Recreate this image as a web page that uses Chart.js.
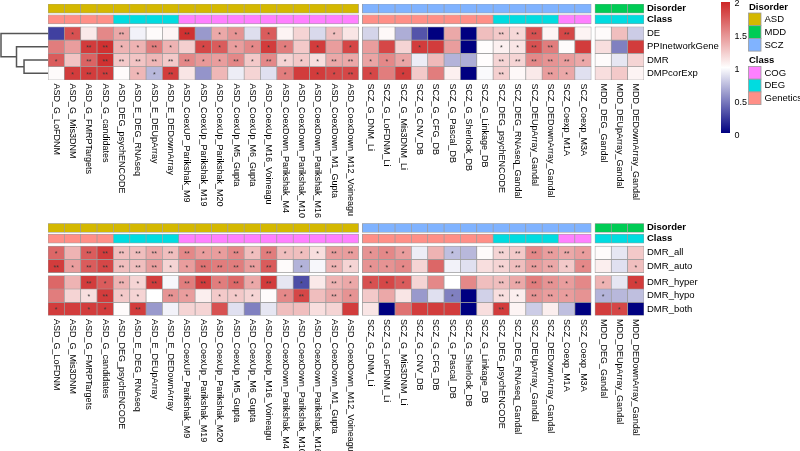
<!DOCTYPE html>
<html>
<head>
<meta charset="utf-8">
<script src="https://cdn.jsdelivr.net/npm/chart.js@4.4.0/dist/chart.umd.min.js"></script>
<style>
  html, body { margin: 0; padding: 0; background: #fff; }
  #wrap { position: relative; width: 800px; height: 451px; }
  #wrap canvas { position: absolute; left: 0; top: 0; }
</style>
</head>
<body>
<div id="wrap">
  <canvas id="topChart" width="800" height="451"></canvas>
  <canvas id="bottomChart" width="800" height="451"></canvas>
</div>

<script>
    // ---- data ----
    const columns = [
        'ASD_G_LoFDNM', 'ASD_G_Mis3DNM', 'ASD_G_FMRPTargets', 'ASD_G_candidates', 'ASD_DEG_psychENCODE',
        'ASD_E_DEG_RNAseq', 'ASD_E_DEUpArray', 'ASD_E_DEDownArray', 'ASD_CoexUP_Parikshak_M9',
        'ASD_CoexUp_Parikshak_M19', 'ASD_CoexUp_Parikshak_M20', 'ASD_CoexUp_M5_Gupta', 'ASD_CoexUp_M6_Gupta',
        'ASD_CoexUp_M16_Voineagu', 'ASD_CoexDown_Parikshak_M4', 'ASD_CoexDown_Parikshak_M10',
        'ASD_CoexDown_Parikshak_M16', 'ASD_CoexDown_M1_Gupta', 'ASD_CoexDown_M12_Voineagu',
        'SCZ_G_DNM_Li', 'SCZ_G_LoFDNM_Li', 'SCZ_G_Mis3DNM_Li', 'SCZ_G_CNV_DB', 'SCZ_G_CFG_DB', 'SCZ_G_Pascal_DB',
        'SCZ_G_Sherlock_DB', 'SCZ_G_Linkage_DB', 'SCZ_DEG_psychENCODE', 'SCZ_DEG_RNAseq_Gandal',
        'SCZ_DEUpArray_Gandal', 'SCZ_DEDownArray_Gandal', 'SCZ_Coexp_M1A', 'SCZ_Coexp_M3A',
        'MDD_DEG_Gandal', 'MDD_DEUpArray_Gandal', 'MDD_DEDownArray_Gandal'
    ];
    const classes = [
        'Genetics', 'Genetics', 'Genetics', 'Genetics', 'DEG', 'DEG', 'DEG', 'DEG',
        'COG', 'COG', 'COG', 'COG', 'COG', 'COG', 'COG', 'COG', 'COG', 'COG', 'COG',
        'Genetics', 'Genetics', 'Genetics', 'Genetics', 'Genetics', 'Genetics', 'Genetics', 'Genetics',
        'DEG', 'DEG', 'DEG', 'DEG', 'COG', 'COG',
        'DEG', 'DEG', 'DEG'
    ];
    const disorderBlocks = ['ASD', 'SCZ', 'MDD'];
    const disorderLegend = ['ASD', 'MDD', 'SCZ'];
    const classLegend = ['COG', 'DEG', 'Genetics'];
    const scaleTicks = [0, 0.5, 1, 1.5, 2];

    // top heatmap (rows clustered)
    const topRows = ['DE', 'PPInetworkGene', 'DMR', 'DMPcorExp'];
    const deVals = [0.25, 1.8, 1.1, 1.55, 1.4, 0.95, 1.02, 1.05, 1.95, 0.6, 1.4, 1.5, 0.87, 1.75, 1.05, 1.2, 0.85, 1.3, 1.12,
                    0.83, 1.03, 0.68, 0.33, 0.0, 1.4, 0.0, 1.3, 1.25, 1.18, 1.8, 1.05, 1.85, 1.05,
                    1.02, 1.3, 0.8];
    const ppiVals = [1.6, 1.45, 1.9, 1.95, 1.35, 1.35, 1.6, 1.35, 1.22, 1.85, 1.75, 1.45, 1.55, 1.9, 1.6, 1.25, 1.9, 1.45, 1.85,
                     1.45, 1.85, 1.2, 1.9, 1.9, 1.45, 0.0, 1.01, 1.07, 1.12, 1.8, 1.6, 1.02, 1.9,
                     1.15, 0.5, 1.9];
    const dmrVals = [1.75, 1.27, 1.72, 1.95, 1.25, 1.27, 1.33, 1.25, 1.55, 1.47, 1.45, 1.55, 1.25, 1.55, 1.2, 1.25, 1.15, 1.4, 1.4,
                     1.42, 1.55, 1.42, 0.93, 1.32, 0.7, 0.68, 1.01, 1.2, 1.2, 1.55, 1.5, 1.45, 1.4,
                     1.02, 0.9, 1.2];
    const dmpVals = [1.02, 1.9, 1.9, 1.9, 1.02, 1.33, 0.72, 1.9, 1.12, 0.58, 1.33, 0.93, 1.2, 0.88, 1.6, 1.9, 1.9, 1.85, 1.85,
                     1.85, 1.6, 1.9, 1.25, 1.6, 1.07, 0.0, 0.98, 1.22, 1.03, 1.1, 1.45, 1.4, 0.88,
                     1.15, 1.25, 1.05];
    const deStars = ['', '*', '', '', '**', '', '', '', '**', '', '*', '*', '', '*', '', '', '', '*', '',
                     '', '', '', '', '', '', '', '', '**', '*', '**', '', '**', '',
                     '', '', ''];
    const ppiStars = ['', '', '**', '**', '*', '*', '**', '*', '', '*', '*', '*', '*', '*', '*', '', '*', '', '*',
                      '', '', '', '*', '', '', '', '', '*', '*', '**', '**', '', '',
                      '', '', ''];
    const dmrStars = ['*', '', '**', '**', '**', '**', '**', '**', '**', '*', '*', '**', '*', '**', '*', '*', '*', '**', '**',
                      '*', '*', '*', '', '', '', '', '', '**', '**', '**', '**', '**', '*',
                      '', '', ''];
    const dmpStars = ['', '*', '**', '**', '', '*', '*', '**', '', '', '', '', '', '', '*', '', '*', '*', '**',
                      '*', '', '*', '', '', '', '', '', '**', '', '', '**', '*', '',
                      '', '', ''];
    // hclust-style merges of the top rows (negative = leaf) and their heights
    const dendroMerge = [[-3, -4], [-2, 1], [-1, 2]];
    const dendroHeight = [0.51, 0.67, 1.0];

    // bottom heatmap (rows split in two groups)
    const bottomRows = ['DMR_all', 'DMR_auto', 'DMR_hyper', 'DMR_hypo', 'DMR_both'];
    const bottomSplit = [0, 0, 1, 1, 1];
    const allVals = [1.7, 1.35, 1.75, 1.9, 1.3, 1.3, 1.4, 1.3, 1.55, 1.45, 1.45, 1.55, 1.3, 1.6, 1.3, 1.3, 1.15, 1.45, 1.45,
                     1.5, 1.55, 1.45, 0.93, 1.35, 0.75, 0.72, 1.02, 1.2, 1.25, 1.55, 1.45, 1.4, 1.45,
                     1.02, 0.9, 1.25];
    const autoVals = [1.9, 1.45, 1.75, 1.85, 1.3, 1.3, 1.45, 1.2, 1.45, 1.65, 1.6, 1.6, 1.45, 1.75, 1.02, 0.7, 0.97, 1.35, 1.2,
                      1.5, 1.5, 1.55, 1.2, 1.7, 0.95, 0.88, 1.15, 1.2, 1.3, 1.45, 1.4, 1.25, 1.55,
                      1.08, 0.88, 1.3];
    const hyperVals = [1.7, 1.35, 1.9, 1.75, 1.35, 1.2, 1.9, 0.97, 1.6, 1.9, 1.6, 1.7, 1.4, 1.9, 0.9, 0.3, 1.1, 1.35, 1.4,
                       1.8, 1.85, 1.75, 1.2, 1.55, 1.0, 1.55, 1.3, 1.3, 1.4, 1.6, 1.5, 1.45, 1.55,
                       1.35, 0.9, 1.9];
    const hypoVals = [1.6, 1.2, 1.15, 1.9, 1.25, 1.2, 1.0, 1.5, 1.45, 1.08, 1.25, 1.25, 1.2, 1.02, 1.55, 1.85, 1.3, 1.4, 1.5,
                      1.25, 1.4, 1.12, 0.6, 0.88, 0.5, 0.0, 0.82, 1.15, 1.08, 1.5, 1.45, 1.45, 1.5,
                      0.7, 0.72, 0.75];
    const bothVals = [1.9, 1.9, 1.9, 1.9, 1.02, 1.9, 0.6, 0.95, 1.2, 1.2, 1.8, 0.88, 0.5, 0.9, 1.3, 1.3, 1.15, 1.2, 1.9,
                      1.12, 0.0, 1.65, 1.9, 1.9, 1.9, 0.0, 1.15, 1.9, 1.05, 0.8, 1.08, 0.75, 0.0,
                      1.9, 1.85, 0.0];
    const allStars = ['*', '', '**', '**', '**', '**', '**', '**', '**', '*', '*', '**', '*', '**', '*', '*', '*', '**', '**',
                      '*', '*', '*', '', '', '*', '', '', '**', '**', '**', '**', '**', '*',
                      '', '', ''];
    const autoStars = ['**', '*', '**', '**', '**', '**', '**', '*', '*', '**', '**', '**', '**', '**', '', '*', '', '**', '*',
                       '*', '*', '*', '', '', '', '', '', '**', '**', '**', '**', '*', '*',
                       '', '', '*'];
    const hyperStars = ['', '', '**', '*', '**', '*', '**', '', '**', '**', '*', '**', '*', '**', '', '*', '', '**', '*',
                        '*', '*', '*', '', '', '', '', '', '**', '**', '**', '**', '*', '',
                        '*', '', '*'];
    const hypoStars = ['', '', '*', '**', '*', '*', '', '**', '*', '', '*', '*', '*', '', '*', '**', '', '**', '*',
                       '', '', '', '', '', '*', '', '', '**', '*', '**', '**', '*', '',
                       '*', '', ''];
    const bothStars = ['*', '', '*', '*', '', '**', '', '', '', '', '', '', '', '', '', '', '', '', '',
                       '', '', '', '', '', '', '', '', '**', '', '', '', '', '',
                       '', '*', ''];

    // ---- styling / layout ----
    const disorderColors = { ASD: '#d4b800', MDD: '#00cc55', SCZ: '#80b3ff' };
    const classColors = { COG: '#ff80ff', DEG: '#00dce0', Genetics: '#ff8f87' };
    const FONT = 'Liberation Sans, Arial, sans-serif';
    const COL_GAP = 0.23;          // gap between disorder blocks (in cell widths)
    const ANNOT_H = 0.68;          // annotation bar height (in cell heights)
    const ANNOT_GAP = 0.13;
    const HEAT_TOP = 2 * ANNOT_H + ANNOT_GAP + 0.22;
    const ROW_GAP = 0.23;

    const NAVY = [0, 0, 128], WHITE = [255, 255, 255], RED = [205, 38, 38];
    function heatColor(v) {
        const t = Math.max(0, Math.min(2, v));
        const [a, b, f] = t < 1 ? [NAVY, WHITE, t] : [WHITE, RED, t - 1];
        return 'rgb(' + a.map((c, i) => Math.round(c + (b[i] - c) * f)).join(',') + ')';
    }

    const xCenter = i => i + 0.5 + disorderBlocks.indexOf(columns[i].split('_')[0]) * COL_GAP;
    const X_MAX = columns.length + (disorderBlocks.length - 1) * COL_GAP;

    function cellDataset(label, y0, y1, colors) {
        return {
            label: label,
            data: columns.map((c, i) => ({ x: xCenter(i), y: [y0, y1] })),
            backgroundColor: colors,
            borderColor: '#9c9c9c',
            borderWidth: 0.7,
            borderSkipped: false,
            grouped: false,
            barPercentage: 1,
            categoryPercentage: 1
        };
    }

    function buildHeatmap(canvasId, rowNames, rowVals, rowStars, rowTops, area, extraDraw) {
        const yMax = rowTops[rowTops.length - 1] + 1;
        const datasets = [
            cellDataset('Disorder', 0, ANNOT_H, columns.map(c => disorderColors[c.split('_')[0]])),
            cellDataset('Class', ANNOT_H + ANNOT_GAP, 2 * ANNOT_H + ANNOT_GAP, classes.map(c => classColors[c]))
        ];
        rowNames.forEach((r, k) => {
            datasets.push(cellDataset(r, rowTops[k], rowTops[k] + 1, rowVals[k].map(heatColor)));
        });

        const labelsPlugin = {
            id: 'heatLabels',
            afterDatasetsDraw(chart) {
                const { ctx, chartArea, scales } = chart;
                const xs = scales.x, ys = scales.y;
                ctx.save();
                // significance stars
                ctx.fillStyle = '#3a3a3a';
                ctx.font = '7px ' + FONT;
                ctx.textAlign = 'center';
                ctx.textBaseline = 'middle';
                rowStars.forEach((stars, k) => {
                    stars.forEach((s, i) => {
                        if (s) ctx.fillText(s, xs.getPixelForValue(xCenter(i)), ys.getPixelForValue(rowTops[k] + 0.62));
                    });
                });
                // row labels
                ctx.fillStyle = '#000';
                ctx.textAlign = 'left';
                ctx.font = 'bold 9.5px ' + FONT;
                ctx.fillText('Disorder', chartArea.right + 3, ys.getPixelForValue(ANNOT_H / 2));
                ctx.fillText('Class', chartArea.right + 3, ys.getPixelForValue(ANNOT_H * 1.5 + ANNOT_GAP));
                ctx.font = '9.5px ' + FONT;
                rowNames.forEach((r, k) => {
                    ctx.fillText(r, chartArea.right + 3, ys.getPixelForValue(rowTops[k] + 0.5));
                });
                // column labels, rotated clockwise
                ctx.font = '9px ' + FONT;
                columns.forEach((c, i) => {
                    ctx.save();
                    ctx.translate(xs.getPixelForValue(xCenter(i)), chartArea.bottom + 3.5);
                    ctx.rotate(Math.PI / 2);
                    ctx.fillText(c, 0, 0);
                    ctx.restore();
                });
                ctx.restore();
                if (extraDraw) extraDraw(chart, rowTops);
            }
        };

        return new Chart(document.getElementById(canvasId), {
            type: 'bar',
            data: { datasets: datasets },
            options: {
                responsive: false,
                animation: false,
                devicePixelRatio: 1,
                events: [],
                layout: { padding: area },
                plugins: { legend: { display: false }, tooltip: { enabled: false } },
                scales: {
                    x: { type: 'linear', min: 0, max: X_MAX, offset: false, display: false },
                    y: { type: 'linear', min: 0, max: yMax, reverse: true, display: false }
                }
            },
            plugins: [labelsPlugin]
        });
    }

    function drawDendrogram(chart, rowTops) {
        const { ctx, chartArea, scales } = chart;
        const left = chartArea.left;
        const nodes = [];
        const pos = m => m < 0
            ? { x: left, y: scales.y.getPixelForValue(rowTops[-m - 1] + 0.5) }
            : nodes[m - 1];
        ctx.save();
        ctx.strokeStyle = '#555';
        ctx.lineWidth = 1.5;
        ctx.beginPath();
        dendroMerge.forEach((pair, k) => {
            const a = pos(pair[0]), b = pos(pair[1]);
            const x = left - dendroHeight[k] * (left - 1);
            ctx.moveTo(a.x, a.y); ctx.lineTo(x, a.y);
            ctx.lineTo(x, b.y); ctx.lineTo(b.x, b.y);
            nodes.push({ x: x, y: (a.y + b.y) / 2 });
        });
        ctx.stroke();
        ctx.restore();
    }

    function drawLegends(chart) {
        const { ctx } = chart;
        ctx.save();
        // colour bar
        const barX = 721, barW = 9, barTop = 2, barBottom = 133;
        const grad = ctx.createLinearGradient(0, barBottom, 0, barTop);
        for (let s = 0; s <= 20; s++) grad.addColorStop(s / 20, heatColor(s / 10));
        ctx.fillStyle = grad;
        ctx.fillRect(barX, barTop, barW, barBottom - barTop);
        ctx.fillStyle = '#000';
        ctx.font = '9px ' + FONT;
        ctx.textAlign = 'left';
        ctx.textBaseline = 'middle';
        scaleTicks.forEach(t => {
            const y = barBottom + 3 - (t / 2) * (barBottom - barTop + 1);
            ctx.fillText(String(t), barX + 13.5, y);
        });
        // discrete legends
        const drawGroup = (title, names, colors, top) => {
            ctx.font = 'bold 9.5px ' + FONT;
            ctx.fillStyle = '#000';
            ctx.fillText(title, 749, top);
            names.forEach((n, k) => {
                const y = top + 6 + k * 12.7;
                ctx.fillStyle = colors[n];
                ctx.fillRect(748.5, y, 12.5, 12.7);
                ctx.strokeStyle = '#9c9c9c';
                ctx.lineWidth = 0.8;
                ctx.strokeRect(748.5, y, 12.5, 12.7);
                ctx.fillStyle = '#000';
                ctx.font = '9.5px ' + FONT;
                ctx.fillText(n, 764.5, y + 6.6);
            });
        };
        drawGroup('Disorder', disorderLegend, disorderColors, 7);
        drawGroup('Class', classLegend, classColors, 60.5);
        ctx.restore();
    }

    // top heatmap: 4 clustered rows
    const topTops = topRows.map((r, k) => HEAT_TOP + k);
    buildHeatmap('topChart', topRows,
        [deVals, ppiVals, dmrVals, dmpVals],
        [deStars, ppiStars, dmrStars, dmpStars],
        topTops,
        { left: 48, right: 156, top: 4, bottom: 371 },
        (chart, tops) => { drawDendrogram(chart, tops); drawLegends(chart); });

    // bottom heatmap: rows split into two groups
    const bottomTops = bottomRows.map((r, k) => HEAT_TOP + k + bottomSplit[k] * ROW_GAP);
    buildHeatmap('bottomChart', bottomRows,
        [allVals, autoVals, hyperVals, hypoVals, bothVals],
        [allStars, autoStars, hyperStars, hypoStars, bothStars],
        bottomTops,
        { left: 48, right: 156, top: 223.3, bottom: 135.4 },
        null);
</script>
</body>
</html>
